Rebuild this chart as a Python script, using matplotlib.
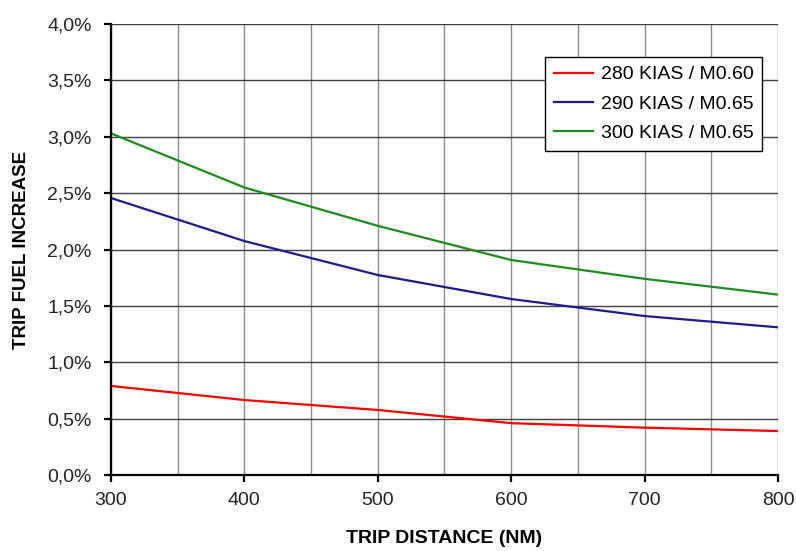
import matplotlib.pyplot as plt
from matplotlib.ticker import FuncFormatter, MultipleLocator

plt.rcParams['font.family'] = ['Liberation Sans', 'DejaVu Sans']

# --- data ---
distance = [300, 400, 500, 600, 700, 800]
fuel_280 = [0.79, 0.665, 0.577, 0.46, 0.42, 0.39]
fuel_290 = [2.457, 2.075, 1.774, 1.561, 1.41, 1.31]
fuel_300 = [3.03, 2.55, 2.21, 1.907, 1.74, 1.60]
labels = ["280 KIAS / M0.60", "290 KIAS / M0.65", "300 KIAS / M0.65"]
colors = ["#ff0000", "#1c1c8e", "#1c8c1c"]

fig = plt.figure(figsize=(7.96, 5.51), dpi=100)
ax = fig.add_axes([0.1394, 0.1379, 0.8380, 0.8185])

for ys, lab, col in zip([fuel_280, fuel_290, fuel_300], labels, colors):
    ax.plot(distance, ys, color=col, lw=1.6, label=lab)

ax.set_xlim(300, 800)
ax.set_ylim(0, 4.0)
ax.xaxis.set_major_locator(MultipleLocator(100))
ax.xaxis.set_minor_locator(MultipleLocator(50))
ax.yaxis.set_major_locator(MultipleLocator(0.5))
ax.yaxis.set_major_formatter(FuncFormatter(lambda v, p: f"{v:.1f}%".replace(".", ",")))

ax.grid(True, axis='x', which='both', color='#8c8c8c', lw=1.0)
ax.grid(True, axis='y', which='major', color='#404040', lw=1.0)
ax.set_axisbelow(True)

for s in ['top', 'right']:
    ax.spines[s].set_visible(False)
for s in ['left', 'bottom']:
    ax.spines[s].set_linewidth(1.6)
    ax.spines[s].set_color('black')

ax.tick_params(which='major', direction='out', length=5, width=1.6, labelsize=14,
               colors='black', labelcolor='#222222')
ax.tick_params(which='minor', length=0)
ax.tick_params(axis='x', pad=7)
ax.tick_params(axis='y', pad=9)

ax.set_xlabel("TRIP DISTANCE (NM)", fontsize=14, fontweight='bold', labelpad=15)
ax.set_ylabel("TRIP FUEL INCREASE", fontsize=13.5, fontweight='bold', labelpad=12)

leg = ax.legend(loc='upper right', bbox_to_anchor=(0.976, 0.927), fontsize=14,
                frameon=True, fancybox=False, edgecolor='black', framealpha=1,
                handlelength=2.0, handletextpad=0.4, borderpad=0.45,
                labelspacing=0.6, borderaxespad=0)
leg.get_frame().set_linewidth(1.0)

fig.savefig("out.png", dpi=100)
